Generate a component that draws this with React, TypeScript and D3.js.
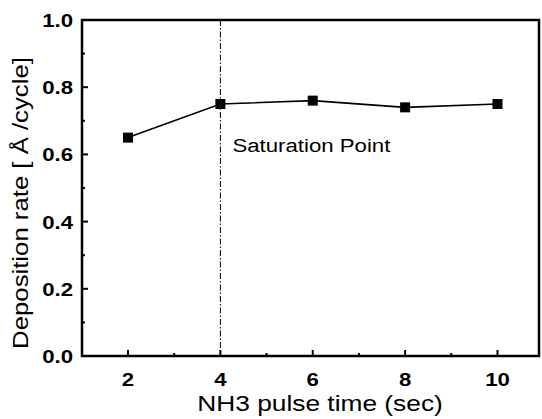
import React from "react";
import * as d3 from "d3";

const pulseTimes = [2, 4, 6, 8, 10];
const depositionRates = [0.65, 0.75, 0.76, 0.74, 0.75];
const xMajorTicks = [2, 4, 6, 8, 10];
const xMinorTicks = [3, 5, 7, 9];
const yMajorTicks = [0, 0.2, 0.4, 0.6, 0.8, 1.0];
const yMinorTicks = [0.1, 0.3, 0.5, 0.7, 0.9];
const saturationX = 4;

const W = 542;
const H = 419;
const left = 82;
const right = 539;
const top = 20;
const bottom = 356;

export default function App() {
  const x = d3.scaleLinear().domain([2, 10]).range([128, 497.5]);
  const y = d3.scaleLinear().domain([0, 1]).range([bottom, top]);
  const line = d3
    .line<number>()
    .x((_, i) => x(pulseTimes[i]))
    .y((d) => y(d));
  const font = "'Liberation Sans', Arial, sans-serif";
  const sx = 1.17;
  return (
    <svg
      width={W}
      height={H}
      style={{ position: "absolute", left: 0, top: 0, background: "#fff" }}
      fontFamily={font}
    >
      {xMajorTicks.map((t) => (
        <line key={"xM" + t} x1={x(t)} x2={x(t)} y1={bottom} y2={bottom - 6} stroke="#000" strokeWidth={2} />
      ))}
      {xMinorTicks.map((t) => (
        <line key={"xm" + t} x1={x(t)} x2={x(t)} y1={bottom} y2={bottom - 3} stroke="#000" strokeWidth={2} />
      ))}
      {yMajorTicks.map((t) => (
        <line key={"yM" + t} x1={left} x2={left + 6} y1={y(t)} y2={y(t)} stroke="#000" strokeWidth={2} />
      ))}
      {yMinorTicks.map((t) => (
        <line key={"ym" + t} x1={left} x2={left + 3} y1={y(t)} y2={y(t)} stroke="#000" strokeWidth={2} />
      ))}
      <rect x={left} y={top} width={right - left} height={bottom - top} fill="none" stroke="#000" strokeWidth={2.5} />
      <line
        x1={x(saturationX)}
        x2={x(saturationX)}
        y1={top}
        y2={bottom}
        stroke="#000"
        strokeWidth={1}
        strokeDasharray="6,2,1.5,2"
      />
      <text transform={`translate(${x(saturationX) + 12}, ${y(0.608)}) scale(${sx},1)`} fontSize={19}>
        Saturation Point
      </text>
      <path d={line(depositionRates) || ""} fill="none" stroke="#000" strokeWidth={1.6} />
      {depositionRates.map((v, i) => (
        <rect key={i} x={x(pulseTimes[i]) - 5} y={y(v) - 5} width={10} height={10} fill="#000" />
      ))}
      {xMajorTicks.map((t) => (
        <text
          key={"xl" + t}
          transform={`translate(${x(t)}, ${bottom + 30}) scale(${sx},1)`}
          fontSize={19}
          textAnchor="middle"
          fontWeight="bold"
        >
          {t}
        </text>
      ))}
      {yMajorTicks.map((t) => (
        <text
          key={"yl" + t}
          transform={`translate(${left - 9}, ${y(t) + 7}) scale(${sx},1)`}
          fontSize={19}
          textAnchor="end"
          fontWeight="bold"
        >
          {t.toFixed(1)}
        </text>
      ))}
      <text transform={`translate(320, 411) scale(${sx},1)`} fontSize={22.5} textAnchor="middle">
        NH3 pulse time (sec)
      </text>
      <text transform={`translate(28, 203) rotate(-90) scale(${sx},1)`} fontSize={22} textAnchor="middle">
        Deposition rate [ Å /cycle]
      </text>
    </svg>
  );
}
